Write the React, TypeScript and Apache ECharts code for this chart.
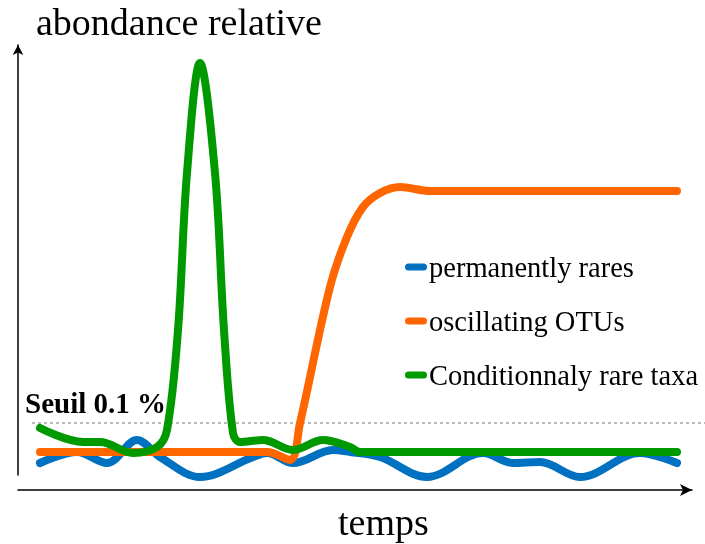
import React, { useEffect, useRef } from "react";
import * as echarts from "echarts";

// time (x) and relative abundance (y)
const permanentlyRares: [number, number][] = [
  [22, 27], [59, 38], [89, 27], [119, 50], [142, 33], [182, 13], [235, 33], [249, 37],
  [275, 27], [315, 40], [332, 38], [362, 33], [409, 13], [465, 37], [495, 27], [522, 28],
  [562, 13], [622, 37], [659, 27],
];
const oscillatingOTUs: [number, number][] = [
  [22, 38], [150, 38], [249, 38], [272, 30], [282, 67], [312, 203], [329, 253], [345, 283],
  [362, 297], [382, 303], [412, 299], [659, 299],
];
const conditionallyRare: [number, number][] = [
  [22, 62], [65, 48], [82, 48], [115, 37], [139, 43], [149, 60], [160, 160], [169, 317],
  [182, 427], [197, 317], [206, 160], [215, 57], [222, 48], [245, 50], [275, 40], [305, 50],
  [332, 43], [342, 38], [400, 38], [659, 38],
];
const thresholdValue = 67;
const thresholdSpan: number[] = [14, 687];

const seriesNames = ["permanently rares", "oscillating OTUs", "Conditionnaly rare taxa"];
const seriesColors = ["#0070C0", "#FF6600", "#009900"];
const yTitle = "abondance relative";
const xTitle = "temps";
const thresholdLabel = "Seuil 0.1 %";

export default function App() {
  const ref = useRef<HTMLDivElement>(null);
  useEffect(() => {
    if (!ref.current) return;
    const chart = echarts.init(ref.current, undefined, { renderer: "svg" });
    const serif = "Liberation Serif";
    const capsule = "path://M3.5,0 H18.5 A3.5,3.5 0 0 1 18.5,7 H3.5 A3.5,3.5 0 0 1 3.5,0 Z";
    const datasets = [permanentlyRares, oscillatingOTUs, conditionallyRare];
    const texts = [
      {
        type: "text",
        left: 36,
        top: 3,
        style: { text: yTitle, fontFamily: serif, fontSize: 38, fill: "#000" },
      },
      {
        type: "text",
        left: 338,
        top: 503,
        style: { text: xTitle, fontFamily: serif, fontSize: 38, fill: "#000" },
      },
      {
        type: "text",
        left: 25,
        top: 388,
        style: { text: thresholdLabel, fontFamily: serif, fontWeight: "bold", fontSize: 29, fill: "#000" },
      },
    ];
    chart.setOption({
      animation: false,
      grid: { left: 18, right: 13, top: 45, bottom: 69 },
      xAxis: {
        type: "value",
        min: 0,
        max: 674,
        offset: 15,
        axisLine: {
          show: true,
          symbol: ["none", "arrow"],
          symbolSize: [9, 12],
          lineStyle: { color: "#000", width: 1.5 },
        },
        axisTick: { show: false },
        axisLabel: { show: false },
        splitLine: { show: false },
      },
      yAxis: {
        type: "value",
        min: 15,
        max: 445,
        axisLine: {
          show: true,
          symbol: ["none", "arrow"],
          symbolSize: [8, 10],
          lineStyle: { color: "#000", width: 1.5 },
        },
        axisTick: { show: false },
        axisLabel: { show: false },
        splitLine: { show: false },
      },
      legend: {
        data: seriesNames.map((n) => ({ name: n, icon: capsule })),
        orient: "vertical",
        left: 405,
        top: 252,
        padding: 0,
        itemWidth: 24,
        itemHeight: 7,
        itemGap: 24,
        textStyle: {
          fontFamily: serif,
          fontSize: 28.5,
          color: "#000",
          lineHeight: 30,
          padding: [0, 0, 0, -4],
        },
      },
      graphic: texts,
      series: datasets.map((d, i) => ({
        name: seriesNames[i],
        type: "line",
        data: d,
        smooth: 0.35,
        showSymbol: false,
        symbol: "none",
        clip: false,
        color: seriesColors[i],
        lineStyle: { color: seriesColors[i], width: 8, cap: "round", join: "round" },
        z: 2 + i,
      })),
    });
    // threshold line placed through the chart's own scales
    const p0 = chart.convertToPixel({ gridIndex: 0 }, [thresholdSpan[0], thresholdValue]) as number[];
    const p1 = chart.convertToPixel({ gridIndex: 0 }, [thresholdSpan[1], thresholdValue]) as number[];
    chart.setOption({
      graphic: [
        ...texts,
        {
          type: "line",
          silent: true,
          z: 1,
          shape: { x1: p0[0], y1: p0[1], x2: p1[0], y2: p1[1] },
          style: { stroke: "#777", lineWidth: 1, lineDash: [3, 3] },
        },
      ],
    });
    return () => chart.dispose();
  }, []);
  return (
    <div
      ref={ref}
      style={{ position: "fixed", left: 0, top: 0, width: 705, height: 544 }}
    />
  );
}
